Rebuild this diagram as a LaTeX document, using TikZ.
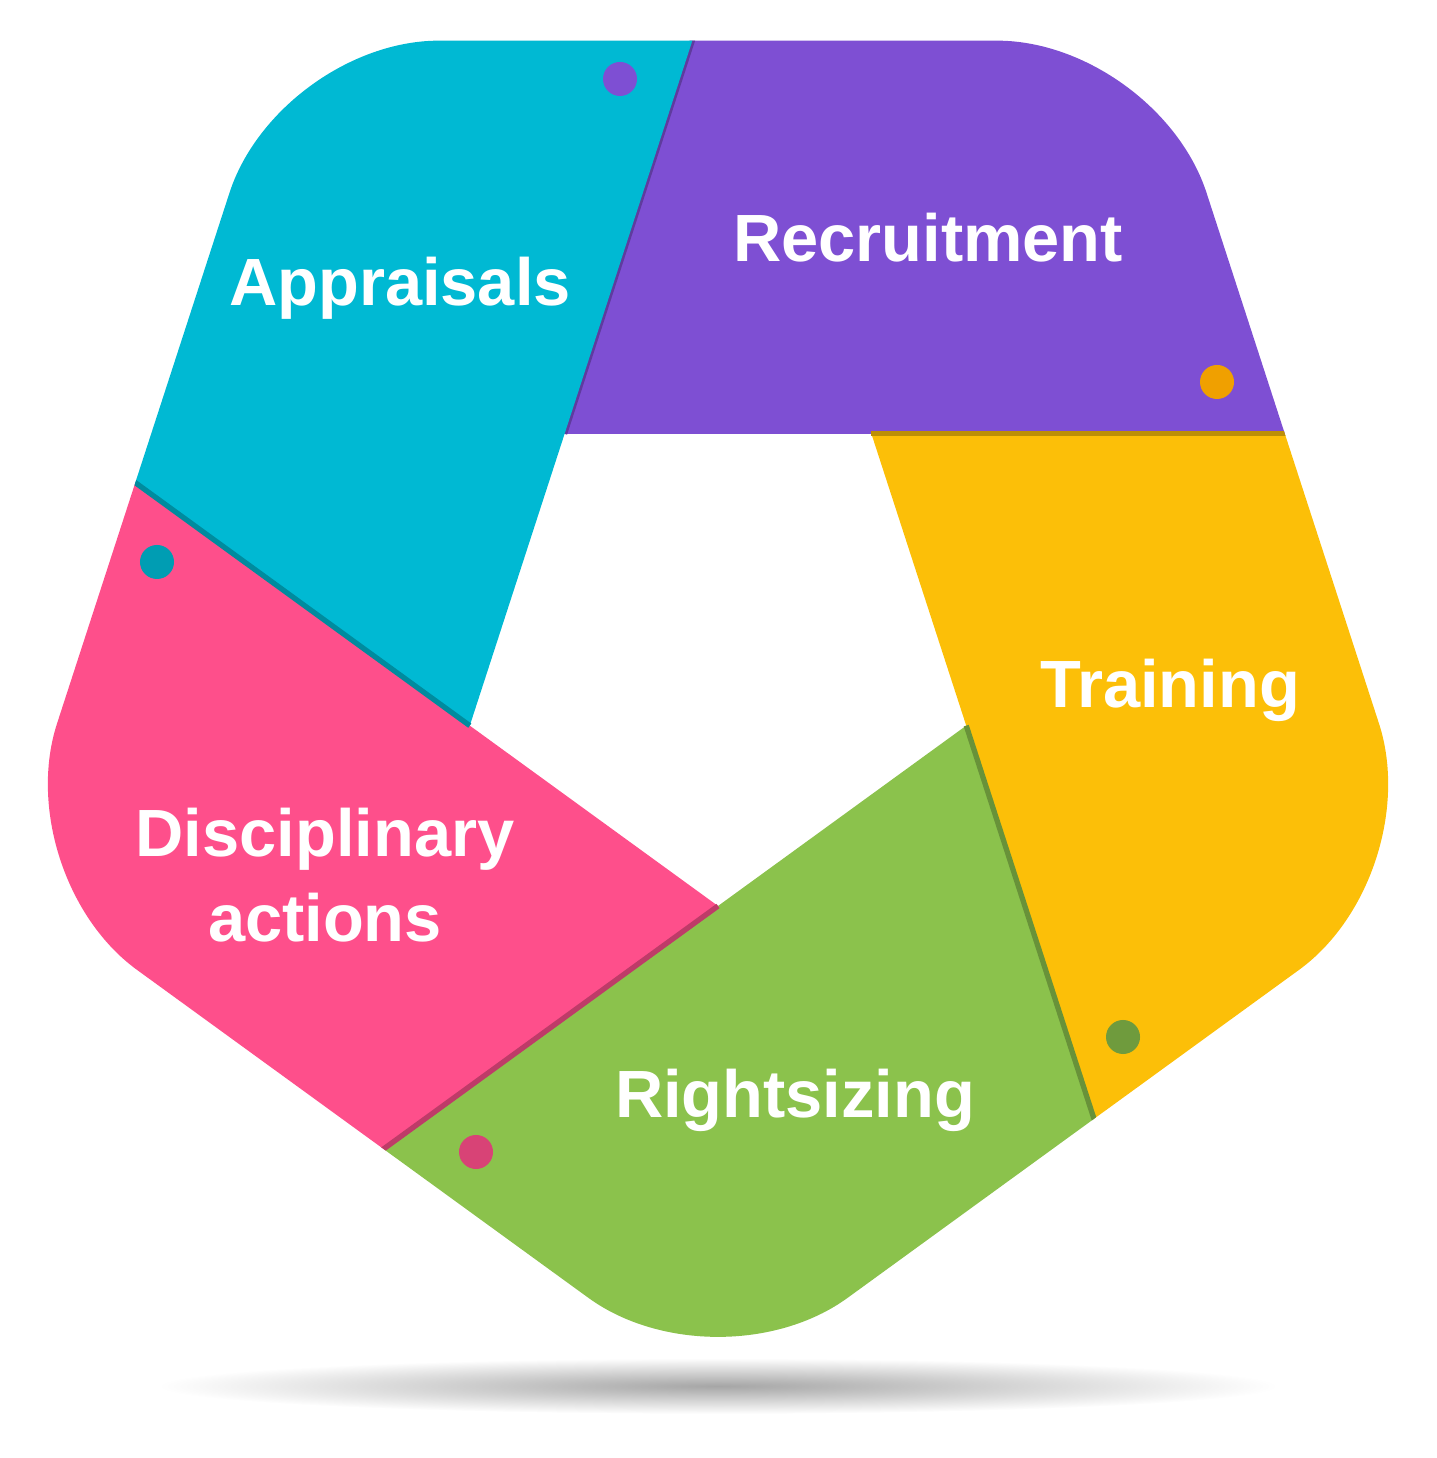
\documentclass[tikz,border=0pt]{standalone}
\usepackage{fontspec}
\setmainfont{Liberation Sans}
\usetikzlibrary{calc}
\definecolor{cRecr}{HTML}{7E4FD3}
\definecolor{cTrain}{HTML}{FCBF08}
\definecolor{cRight}{HTML}{8BC24C}
\definecolor{cDisc}{HTML}{FE4F8B}
\definecolor{cAppr}{HTML}{00B9D3}
\definecolor{cOrange}{HTML}{F0A000}
\tikzset{
  label/.style={text=white, font=\bfseries\fontsize{19}{24}\selectfont, align=center},
  dot/.style={circle, minimum size=0.34cm, inner sep=0pt}
}
\begin{document}
\begin{tikzpicture}[x=0.01cm,y=0.01cm]
\useasboundingbox (0,0) rectangle (1436,1458);
\coordinate (C) at (718,813);
% shadow
\shade[inner color=gray!70, outer color=white] (718,72) ellipse (560 and 28);
% ring segments
\begin{scope}
\clip[rounded corners=1.6cm] ($(C)+(54:747)$) -- ($(C)+(126:747)$) -- ($(C)+(198:747)$)
  -- ($(C)+(270:747)$) -- ($(C)+(342:747)$) -- cycle;
\foreach \col [count=\k from 0] in {cRecr,cTrain,cRight,cDisc,cAppr}{
  \pgfmathsetmacro{\a}{126-72*\k}
  \coordinate (V\k) at ($(C)+(\a:261)$);
  \fill[\col] (V\k) -- ($(V\k)+(\a-54:2000)$) -- ($(V\k)+(\a-90:2000)$)
    -- ($(V\k)+(\a-126:2000)$) -- cycle;
  \draw[\col!75!black, line width=1.5pt] (V\k) -- ($(V\k)+(\a-54:2000)$);
}
\end{scope}
% dots
\node[dot, fill=cRecr] (d1) at (620,1379) {};
\node[dot, fill=cOrange] (d2) at (1217,1076) {};
\node[dot, fill=cRight!80!black] (d3) at (1123,421) {};
\node[dot, fill=cDisc!85!black] (d4) at (476,306) {};
\node[dot, fill=cAppr!85!black] (d5) at (157,896) {};
% labels
\node[label] (appr) at (400,1170) {Appraisals};
\node[label] (recr) at (928,1220) {Recruitment};
\node[label] (train) at (1170,768) {Training};
\node[label] (disc) at (325,583) {Disciplinary\\actions};
\node[label] (right) at (795,358) {Rightsizing};
\end{tikzpicture}
\end{document}
